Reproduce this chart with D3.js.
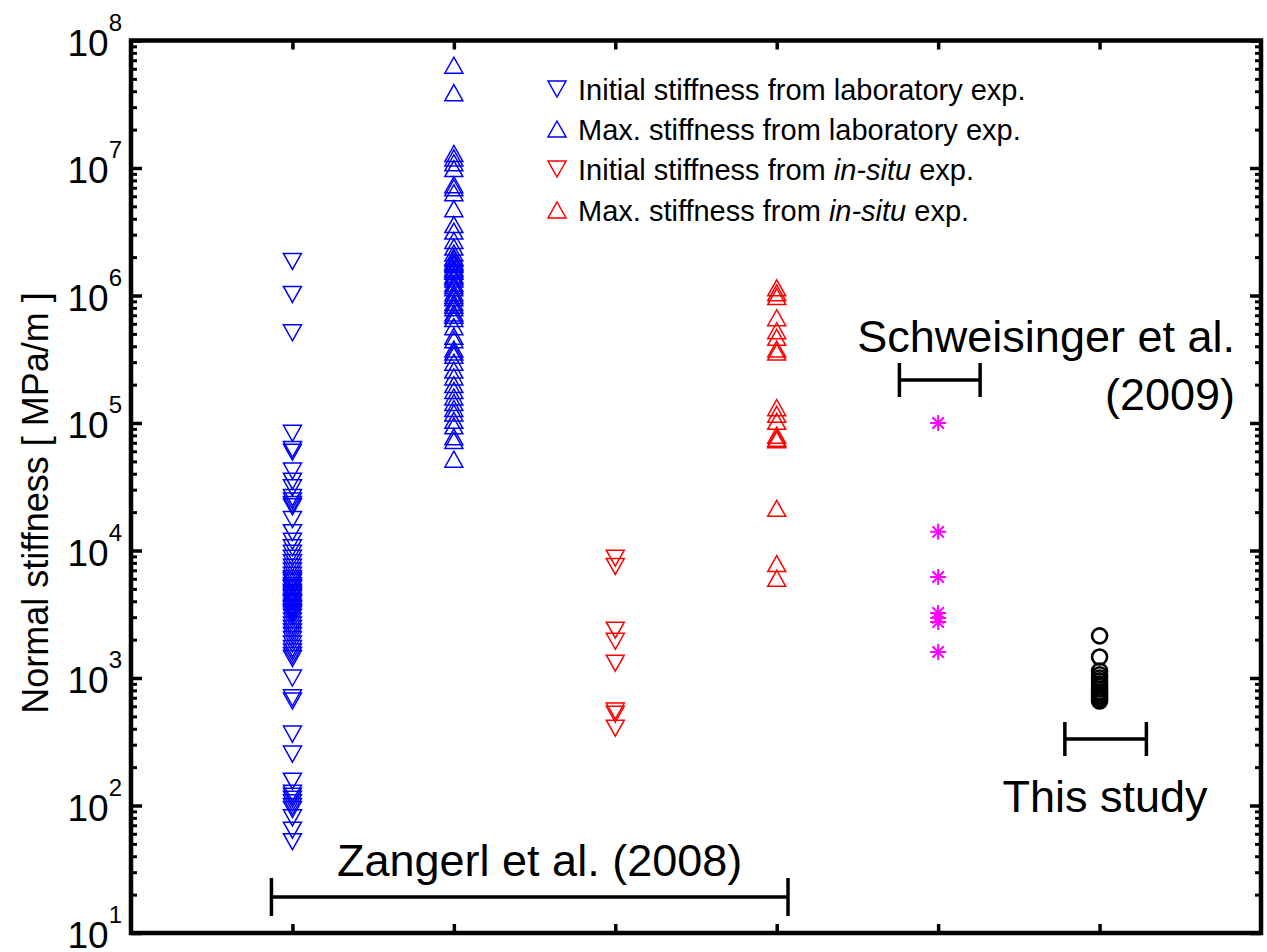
<!DOCTYPE html>
<html>
<head>
<meta charset="utf-8">
<script src="https://cdn.jsdelivr.net/npm/d3@7"></script>
<style>
  html, body { margin: 0; padding: 0; background: #fff; }
  svg { display: block; font-family: "Liberation Sans", Arial, Helvetica, sans-serif; }
</style>
</head>
<body>
<svg id="chart" width="1267" height="952"></svg>
<script>
// ---- data ----
const categoryPositions = [1, 2, 3, 4, 5, 6];

const labInitial = [1.85e6, 1.02e6, 5.1e5,
  8.3e4, 6.2e4, 5.9e4, 4.2e4, 3.5e4, 3.1e4, 2.6e4, 2.45e4, 2.3e4, 2.2e4, 1.75e4, 1.38e4, 1.18e4,
  1.05e4, 9.5e3, 8.7e3, 8.0e3, 7.4e3, 6.9e3, 6.4e3, 6.0e3, 5.8e3, 5.6e3, 5.3e3, 5.1e3, 5.0e3, 4.7e3,
  4.6e3, 4.45e3, 4.3e3, 4.2e3, 4.0e3, 3.9e3, 3.8e3, 3.6e3, 3.5e3, 3.45e3, 3.3e3, 3.25e3, 3.15e3, 3.0e3,
  2.8e3, 2.6e3, 2.45e3, 2.3e3, 2.15e3, 2.0e3, 1.85e3, 1.7e3, 1.6e3, 1.5e3, 1.42e3,
  1000, 700, 660, 363, 253, 155, 125, 118, 112, 105, 98, 93, 80, 64, 52];

const labMax = [6.4e7, 3.9e7, 1.3e7, 1.2e7, 1.1e7, 9.9e6, 7.4e6, 7.0e6, 6.4e6, 4.8e6, 3.6e6, 3.2e6,
  2.7e6, 2.4e6, 2.15e6, 2.0e6, 1.95e6, 1.85e6, 1.8e6, 1.75e6, 1.65e6, 1.6e6, 1.55e6, 1.45e6, 1.4e6,
  1.35e6, 1.25e6, 1.2e6, 1.15e6, 1.05e6, 1.0e6, 9.6e5, 8.8e5, 8.4e5, 8.0e5, 7.3e5, 7.0e5, 6.6e5,
  5.7e5, 4.8e5, 4.5e5, 3.8e5, 3.6e5, 3.4e5, 3.0e5, 2.6e5, 2.3e5, 2.0e5, 1.8e5, 1.6e5, 1.45e5, 1.3e5,
  1.2e5, 1.05e5, 9.5e4, 7.8e4, 7.3e4, 5.2e4];

const insituInitial = [8700, 7500, 2370, 1940, 1306, 550, 520, 404];

const insituMax = [1.15e6, 1.05e6, 9.8e5, 6.7e5, 5.3e5, 4.7e5, 3.8e5, 3.6e5, 1.32e5, 1.17e5, 1.03e5,
  8.0e4, 7.6e4, 7.4e4, 2.14e4, 7.9e3, 6.05e3];

const schweisinger = [1.0e5, 1.4e4, 6.2e3, 3.24e3, 2.96e3, 2.75e3, 1.6e3];

const thisStudy = [2140, 1460, 1135, 1060, 1000, 950, 900, 860, 820, 780, 750, 720, 690, 660];

const yTickExponents = [1, 2, 3, 4, 5, 6, 7, 8];

const legendLabels = [
  ["Initial stiffness from laboratory exp."],
  ["Max. stiffness from laboratory exp."],
  ["Initial stiffness from ", "in-situ", " exp."],
  ["Max. stiffness from ", "in-situ", " exp."]
];

// ---- scales ----
const svg = d3.select("#chart");
const x = d3.scaleLinear().domain([0, 7]).range([131, 1261]);
const y = d3.scaleLog().domain([10, 1e8]).range([933, 40.5]);

const TW = 18, TH = 16;
const upTri = `M0,${-TH/2}L${TW/2},${TH/2}L${-TW/2},${TH/2}Z`;
const downTri = `M0,${TH/2}L${TW/2},${-TH/2}L${-TW/2},${-TH/2}Z`;

function drawTriangles(vals, xpos, path, color) {
  svg.append("g").selectAll("path").data(vals).join("path")
    .attr("d", path)
    .attr("transform", d => `translate(${x(xpos)},${y(d)})`)
    .attr("fill", "none").attr("stroke", color).attr("stroke-width", 1.5);
}
drawTriangles(labInitial, categoryPositions[0], downTri, "#0000ff");
drawTriangles(labMax, categoryPositions[1], upTri, "#0000ff");
drawTriangles(insituInitial, categoryPositions[2], downTri, "#ff0000");
drawTriangles(insituMax, categoryPositions[3], upTri, "#ff0000");

// stars
const S = 8, D = 5.7;
const starPath = `M0,${-S}V${S}M${-S},0H${S}M${-D},${-D}L${D},${D}M${-D},${D}L${D},${-D}`;
svg.append("g").selectAll("path").data(schweisinger).join("path")
  .attr("d", starPath)
  .attr("transform", d => `translate(${x(categoryPositions[4])},${y(d)})`)
  .attr("fill", "none").attr("stroke", "#ff00ff").attr("stroke-width", 2);

// circles
svg.append("g").selectAll("circle").data(thisStudy).join("circle")
  .attr("cx", x(categoryPositions[5])).attr("cy", d => y(d)).attr("r", 7.5)
  .attr("fill", "none").attr("stroke", "#000").attr("stroke-width", 2.6);

// ---- axes ----
const majors = yTickExponents.map(e => Math.pow(10, e));
const minors = [];
for (let e = 1; e < 8; e++) for (let m = 2; m <= 9; m++) minors.push(m * Math.pow(10, e));

const axisG = svg.append("g");
// left
axisG.append("g").attr("transform", `translate(${x.range()[0]},0)`)
  .call(d3.axisLeft(y).tickValues(majors).tickSizeInner(-11).tickSizeOuter(0).tickFormat(""))
  .call(g => g.select(".domain").remove())
  .call(g => g.selectAll("line").attr("stroke-width", 3.5));
axisG.append("g").attr("transform", `translate(${x.range()[0]},0)`)
  .call(d3.axisLeft(y).tickValues(minors).tickSizeInner(-6).tickSizeOuter(0).tickFormat(""))
  .call(g => g.select(".domain").remove())
  .call(g => g.selectAll("line").attr("stroke-width", 3));
// right
axisG.append("g").attr("transform", `translate(${x.range()[1]},0)`)
  .call(d3.axisRight(y).tickValues(majors).tickSizeInner(-11).tickSizeOuter(0).tickFormat(""))
  .call(g => g.select(".domain").remove())
  .call(g => g.selectAll("line").attr("stroke-width", 3.5));
axisG.append("g").attr("transform", `translate(${x.range()[1]},0)`)
  .call(d3.axisRight(y).tickValues(minors).tickSizeInner(-6).tickSizeOuter(0).tickFormat(""))
  .call(g => g.select(".domain").remove())
  .call(g => g.selectAll("line").attr("stroke-width", 3));
// bottom / top
axisG.append("g").attr("transform", `translate(0,${y.range()[0]})`)
  .call(d3.axisBottom(x).tickValues(categoryPositions).tickSizeInner(-9).tickSizeOuter(0).tickFormat(""))
  .call(g => g.select(".domain").remove())
  .call(g => g.selectAll("line").attr("stroke-width", 3.5));
axisG.append("g").attr("transform", `translate(0,${y.range()[1]})`)
  .call(d3.axisTop(x).tickValues(categoryPositions).tickSizeInner(-9).tickSizeOuter(0).tickFormat(""))
  .call(g => g.select(".domain").remove())
  .call(g => g.selectAll("line").attr("stroke-width", 3.5));
// frame
svg.append("rect")
  .attr("x", x.range()[0]).attr("y", y.range()[1])
  .attr("width", x.range()[1] - x.range()[0]).attr("height", y.range()[0] - y.range()[1])
  .attr("fill", "none").attr("stroke", "#000").attr("stroke-width", 4.5);

// y tick labels
const lbl = svg.append("g").selectAll("text").data(yTickExponents).join("text")
  .attr("x", 122).attr("y", e => y(Math.pow(10, e)) + 15)
  .attr("text-anchor", "end").attr("font-size", 37).attr("fill", "#000");
lbl.append("tspan").text("10");
lbl.append("tspan").attr("dy", -25).attr("font-size", 24).text(e => e);

// y axis title
svg.append("text")
  .attr("transform", "translate(48,503) rotate(-90)")
  .attr("text-anchor", "middle").attr("font-size", 36)
  .text("Normal stiffness [ MPa/m ]");

// ---- legend ----
const legendColors = ["#0000ff", "#0000ff", "#ff0000", "#ff0000"];
const legendShapes = [downTri, upTri, downTri, upTri];
const legendBase = [100, 140, 180, 221];
legendLabels.forEach((parts, i) => {
  svg.append("path").attr("d", legendShapes[i])
    .attr("transform", `translate(557,${legendBase[i] - 11})`)
    .attr("fill", "none").attr("stroke", legendColors[i]).attr("stroke-width", 1.5);
  const t = svg.append("text").attr("x", 578).attr("y", legendBase[i]).attr("font-size", 29);
  parts.forEach((p, j) => {
    t.append("tspan").text(p).attr("font-style", j === 1 ? "italic" : "normal");
  });
});

// ---- annotations ----
function bracket(x0, x1, yy, h) {
  const g = svg.append("g").attr("stroke", "#000").attr("stroke-width", 3.5);
  g.append("line").attr("x1", x0).attr("x2", x1).attr("y1", yy).attr("y2", yy);
  g.append("line").attr("x1", x0).attr("x2", x0).attr("y1", yy - h).attr("y2", yy + h);
  g.append("line").attr("x1", x1).attr("x2", x1).attr("y1", yy - h).attr("y2", yy + h);
}
bracket(x(0.87), x(4.07), 897, 19);
svg.append("text").attr("x", 337).attr("y", 876).attr("font-size", 45).text("Zangerl et al. (2008)");

bracket(x(4.76), x(5.26), 380, 17);
svg.append("text").attr("x", 1235).attr("y", 352).attr("text-anchor", "end").attr("font-size", 45).text("Schweisinger et al.");
svg.append("text").attr("x", 1235).attr("y", 410).attr("text-anchor", "end").attr("font-size", 45).text("(2009)");

bracket(x(5.785), x(6.29), 739, 17);
svg.append("text").attr("x", 1105).attr("y", 812).attr("text-anchor", "middle").attr("font-size", 45).text("This study");
</script>
</body>
</html>
